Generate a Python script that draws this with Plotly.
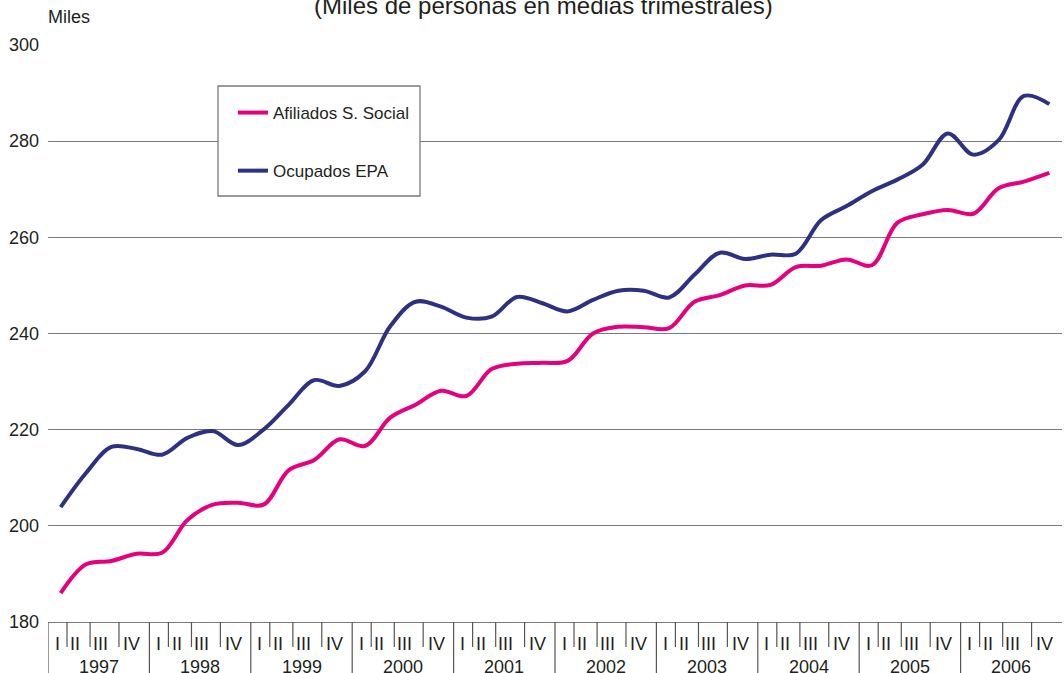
import plotly.graph_objects as go

# ---- data ----
years = ["1997", "1998", "1999", "2000", "2001", "2002", "2003", "2004", "2005", "2006"]
quarters = ["I", "II", "III", "IV"]
afiliados = [186.0, 192.0, 192.7, 194.2, 194.4, 201.2, 204.4, 204.8,
             204.4, 211.6, 213.7, 218.0, 216.6, 222.5, 225.2, 228.1,
             227.0, 232.6, 233.7, 233.9, 234.3, 240.0, 241.4, 241.3,
             241.1, 246.6, 248.0, 250.0, 250.1, 253.8, 254.1, 255.4,
             254.2, 263.0, 264.8, 265.7, 264.9, 270.2, 271.6, 273.4]
ocupados = [203.9, 211.0, 216.4, 216.0, 214.8, 218.3, 219.7, 216.8,
            220.0, 225.2, 230.3, 229.1, 232.1, 241.5, 246.6, 245.6,
            243.3, 243.5, 247.6, 246.3, 244.6, 247.0, 248.9, 248.9,
            247.5, 252.2, 256.8, 255.5, 256.4, 256.6, 263.6, 266.5,
            269.6, 272.0, 275.1, 281.6, 277.2, 280.2, 289.4, 287.7]
series_names = ["Afiliados S. Social", "Ocupados EPA"]
y_min, y_max, y_step = 180, 300, 20

# ---- style ----
PINK = "#E5007D"
NAVY = "#2E3181"
GRID = "#7a7a7a"
TXT = "#231F20"
FONT = "Liberation Sans, Arial, sans-serif"

W, H = 1064, 673
L, R, T, B = 48, 2, 45, 51
plot_h = H - T - B
plot_w = W - L - R

def py(p):
    return (H - B - p) / plot_h

def px(p):
    return (p - L) / plot_w

n = len(afiliados)
x = list(range(n))

fig = go.Figure()
fig.add_trace(go.Scatter(x=x, y=afiliados, name=series_names[0], mode="lines",
                         line=dict(color=PINK, width=4, shape="spline", smoothing=1),
                         legendgroup="a"))
fig.add_trace(go.Scatter(x=x, y=ocupados, name=series_names[1], mode="lines",
                         line=dict(color=NAVY, width=4, shape="spline", smoothing=1),
                         legendgroup="b"))

shapes = []
annotations = []

# legend frame
shapes.append(dict(type="rect", xref="paper", yref="paper",
                   x0=px(218), x1=px(420), y0=py(196), y1=py(86),
                   line=dict(color=GRID, width=1.3), fillcolor="white", layer="above"))

# category axis boxes
sep_off = [0.75, 1.66, 2.80]
lab_off = [0.36, 1.07, 2.06, 3.31]
for k, yr in enumerate(years):
    s = -0.5 + 4 * k
    shapes.append(dict(type="line", xref="x", yref="paper", x0=s, x1=s,
                       y0=0, y1=py(H + 5), line=dict(color="#555555", width=1.2)))
    for o in sep_off:
        shapes.append(dict(type="line", xref="x", yref="paper", x0=s + o, x1=s + o,
                           y0=0, y1=py(647), line=dict(color="#555555", width=1.2)))
    for q, o in zip(quarters, lab_off):
        annotations.append(dict(x=s + o, y=py(644), xref="x", yref="paper", text=q,
                                showarrow=False, xanchor="center", yanchor="middle",
                                font=dict(size=18, color=TXT, family=FONT)))
    annotations.append(dict(x=s + 2, y=py(667), xref="x", yref="paper", text=yr,
                            showarrow=False, xanchor="center", yanchor="middle",
                            font=dict(size=18, color=TXT, family=FONT)))

annotations.append(dict(x=px(46), y=py(17), xref="paper", yref="paper", text="Miles",
                        showarrow=False, xanchor="left", yanchor="middle",
                        font=dict(size=18, color=TXT, family=FONT)))
annotations.append(dict(x=px(543.5), y=py(6), xref="paper", yref="paper",
                        text="(Miles de personas en medias trimestrales)",
                        showarrow=False, xanchor="center", yanchor="middle",
                        font=dict(size=24, color=TXT, family=FONT)))

fig.update_layout(
    width=W, height=H,
    margin=dict(l=L, r=R, t=T, b=B, pad=0),
    paper_bgcolor="white", plot_bgcolor="white",
    font=dict(family=FONT, color=TXT),
    showlegend=True,
    legend=dict(x=px(233), y=py(95), xanchor="left", yanchor="top",
                bgcolor="rgba(0,0,0,0)", borderwidth=0,
                font=dict(size=17, color=TXT, family=FONT),
                tracegroupgap=33),
    xaxis=dict(range=[-0.5, n - 0.5], showgrid=False, zeroline=False,
               showticklabels=False, ticks="", showline=True,
               linecolor=GRID, linewidth=1.3, fixedrange=True),
    yaxis=dict(range=[y_min, y_max], tickvals=list(range(y_min, y_max + 1, y_step)),
               showgrid=True, gridcolor=GRID, gridwidth=1.3, zeroline=False,
               showline=False, ticks="", ticklabelstandoff=8,
               tickfont=dict(size=18, color=TXT, family=FONT), fixedrange=True),
    shapes=shapes,
    annotations=annotations,
)

fig.write_html("out.html", config={"displayModeBar": False},
               post_script="document.body.style.margin='0';")
